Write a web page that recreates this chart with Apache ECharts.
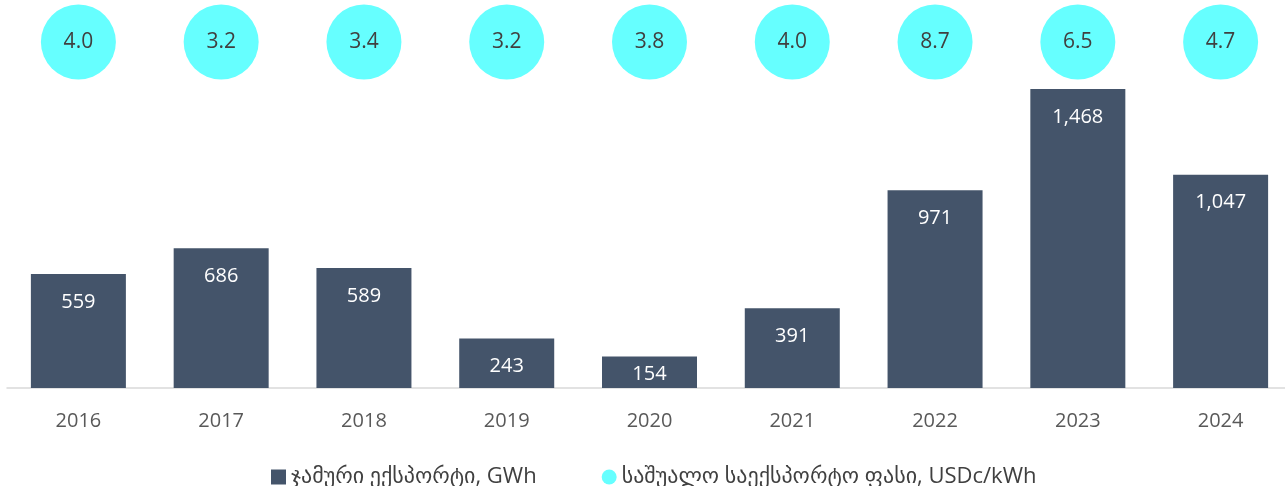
<!DOCTYPE html>
<html><head><meta charset="utf-8">
<script src="https://cdn.jsdelivr.net/npm/echarts@6/dist/echarts.min.js"></script>
<style>html,body{margin:0;padding:0;background:#fff}#c{width:1285px;height:486px}</style>
</head><body><div id="c"></div>
<script>
var years = ['2016','2017','2018','2019','2020','2021','2022','2023','2024'];
var exportsGWh = [559, 686, 589, 243, 154, 391, 971, 1468, 1047];
var priceUSDc = [4.0, 3.2, 3.4, 3.2, 3.8, 4.0, 8.7, 6.5, 4.7];
var seriesNames = ['ჯამური ექსპორტი, GWh', 'საშუალო საექსპორტო ფასი, USDc/kWh'];

var FONT = '"Open Sans", "DejaVu Sans", sans-serif';
var chart = echarts.init(document.getElementById('c'), null, {renderer:'canvas'});
var scatterData = years.map(function(y, i){ return [y, 'p', priceUSDc[i]]; });
var barData = exportsGWh.map(function(v){
  // very short bars: label centred in the bar (style only)
  return v < 200 ? {value: v, label: {position: 'inside', offset: [0, 2]}} : v;
});
chart.setOption({
  animation: false,
  textStyle: {fontFamily: FONT},
  legend: {
    top: 461, left: 266, itemGap: 65, itemWidth: 15, itemHeight: 15,
    textStyle: {fontSize: 22, color: '#404040', fontFamily: FONT},
    data: [{name: seriesNames[0], icon: 'rect'}, {name: seriesNames[1], icon: 'circle'}]
  },
  grid: [
    {left: 7, width: 1285, top: 62, height: 326, containLabel: false, outerBoundsMode: 'none'},
    {left: 7, width: 1285, top: 5, height: 74, containLabel: false, outerBoundsMode: 'none'}
  ],
  xAxis: [
    {type: 'category', data: years, gridIndex: 0,
     axisLine: {lineStyle: {color: '#D9D9D9', width: 1.5}}, axisTick: {show: false},
     axisLabel: {fontSize: 20, color: '#595959', margin: 23, fontFamily: FONT}},
    {type: 'category', data: years, gridIndex: 1, show: false}
  ],
  yAxis: [
    {type: 'value', min: 0, max: 1600, gridIndex: 0, show: false, splitLine: {show: false}},
    {type: 'category', data: ['p'], gridIndex: 1, show: false}
  ],
  series: [
    {name: seriesNames[0], type: 'bar', data: barData, barWidth: 95,
     itemStyle: {color: '#44546A'},
     label: {show: true, position: 'insideTop', distance: 18, color: '#FFFFFF', fontSize: 20, fontFamily: FONT,
       formatter: function(p){ return Number(p.value).toLocaleString('en-US'); }}},
    {name: seriesNames[1], type: 'scatter', xAxisIndex: 1, yAxisIndex: 1, data: scatterData,
     symbolSize: 75, itemStyle: {color: '#66FFFF', opacity: 1},
     label: {show: true, position: 'inside', color: '#404040', fontSize: 21, fontFamily: FONT,
       formatter: function(p){ return p.value[2].toFixed(1); }}}
  ]
});
</script></body></html>
